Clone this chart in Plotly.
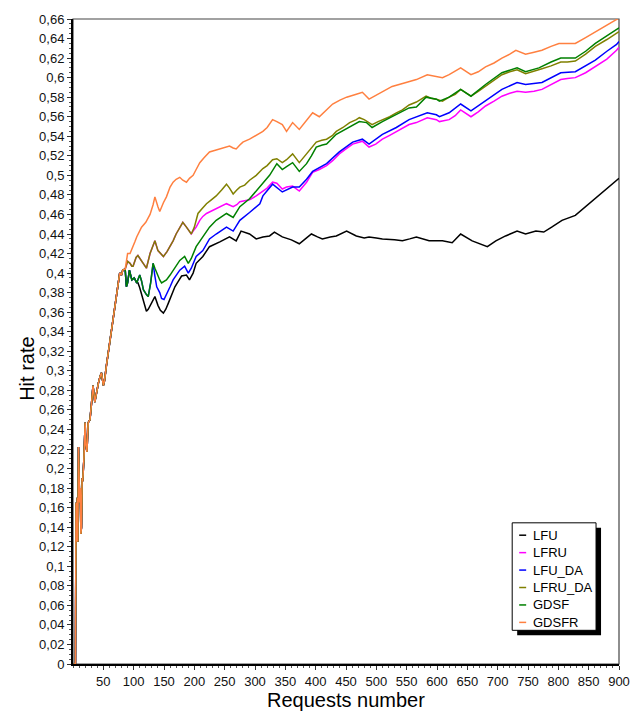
import plotly.graph_objects as go

# ---------------------------------------------------------------------------
# Hit rate vs. number of requests for six cache replacement policies.
# All policies behave identically while the cache is warming up; after that
# each curve branches off from the policy it tracked until then.
# ---------------------------------------------------------------------------

# Shared warm-up phase (also the beginning of GDSFR)
warmup_x = [1, 2, 3, 4, 5, 6, 7, 8, 9, 10, 11, 12, 13, 14, 15, 16, 18, 20, 21,
            23, 25, 28, 31, 33, 36, 39, 42, 45, 47, 50, 52, 55, 58, 61, 64, 66,
            69, 72, 75, 77, 80, 82, 86]
warmup_y = [0.0, 0.0, 0.0, 0.0, 0.165, 0.125, 0.17, 0.125, 0.222, 0.20, 0.165,
            0.18, 0.133, 0.14, 0.19, 0.187, 0.21, 0.247, 0.225, 0.217, 0.247,
            0.25, 0.27, 0.285, 0.268, 0.28, 0.288, 0.295, 0.298, 0.285, 0.29,
            0.305, 0.318, 0.33, 0.345, 0.356, 0.37, 0.38, 0.395, 0.40, 0.398,
            0.403, 0.404]

# GDSFR after warm-up
gdsfr_x = [90, 94, 98, 102, 105, 109, 113, 120, 127, 132, 135, 140, 143, 149,
           154, 160, 165, 170, 176, 181, 187, 192, 198, 203, 209, 216, 225, 236,
           242, 253, 258, 264, 269, 275, 280, 291, 302, 313, 320, 329, 336, 345,
           352, 362, 373, 385, 395, 406, 418, 428, 440, 451, 467, 477, 488, 499,
           510, 526, 549, 566, 584, 599, 609, 620, 639, 656, 668, 680, 694, 707,
           720, 730, 746, 760, 773, 788, 801, 815, 828, 845, 861, 880, 896, 900]
gdsfr_y = [0.42, 0.42, 0.427, 0.432, 0.437, 0.443, 0.447, 0.452, 0.46, 0.47,
           0.478, 0.468, 0.463, 0.472, 0.478, 0.488, 0.493, 0.496, 0.498, 0.495,
           0.493, 0.497, 0.50, 0.506, 0.513, 0.518, 0.524, 0.526, 0.527, 0.529,
           0.53, 0.528, 0.527, 0.531, 0.534, 0.537, 0.541, 0.545, 0.549, 0.557,
           0.555, 0.552, 0.545, 0.554, 0.547, 0.556, 0.564, 0.56, 0.567, 0.573,
           0.577, 0.58, 0.583, 0.585, 0.578, 0.582, 0.586, 0.591, 0.595, 0.598,
           0.603, 0.601, 0.60, 0.603, 0.61, 0.603, 0.606, 0.611, 0.615, 0.62,
           0.624, 0.628, 0.624, 0.626, 0.628, 0.632, 0.635, 0.635, 0.635,
           0.641, 0.647, 0.654, 0.66, 0.661]

# LFRU_DA after warm-up
lfru_da_x = [90, 94, 97, 99, 104, 107, 110, 113, 118, 121, 127, 135, 140, 145,
             149, 155, 160, 165, 170, 176, 181, 187, 192, 195, 200, 206, 213,
             220, 228, 236, 245, 253, 258, 264, 270, 275, 283, 291, 302, 308,
             313, 320, 329, 336, 345, 352, 362, 373, 385, 395, 401, 410, 418,
             428, 434, 445, 456, 467, 472, 480, 493, 503, 510, 522, 533, 543,
             554, 566, 582, 590, 599, 609, 620, 630, 639, 648, 656, 668, 680,
             694, 707, 720, 732, 746, 760, 773, 788, 804, 815, 828, 845, 861,
             880, 896, 900]
lfru_da_y = [0.412, 0.41, 0.407, 0.407, 0.416, 0.418, 0.415, 0.413, 0.408,
             0.405, 0.42, 0.433, 0.423, 0.42, 0.417, 0.422, 0.427, 0.433, 0.44,
             0.447, 0.452, 0.447, 0.443, 0.44, 0.447, 0.461, 0.466, 0.471,
             0.475, 0.479, 0.485, 0.491, 0.487, 0.481, 0.485, 0.488, 0.49,
             0.495, 0.50, 0.504, 0.507, 0.51, 0.516, 0.517, 0.513, 0.516, 0.522,
             0.513, 0.522, 0.53, 0.534, 0.536, 0.537, 0.541, 0.545, 0.549,
             0.554, 0.557, 0.559, 0.557, 0.552, 0.555, 0.557, 0.56, 0.564,
             0.567, 0.572, 0.575, 0.581, 0.579, 0.578, 0.576, 0.58, 0.583,
             0.588, 0.584, 0.581, 0.586, 0.591, 0.597, 0.603, 0.606, 0.608,
             0.604, 0.607, 0.609, 0.612, 0.616, 0.616, 0.617, 0.624, 0.632,
             0.639, 0.645, 0.647]

# LFRU follows LFRU_DA up to request 195, then
lfru_split = 195
lfru_x = [198, 203, 209, 214, 220, 230, 236, 245, 253, 264, 270, 275, 283, 291,
          302, 313, 320, 329, 336, 345, 352, 362, 373, 385, 395, 406, 418, 428,
          439, 450, 461, 477, 488, 499, 510, 522, 533, 545, 554, 566, 584, 599,
          604, 620, 630, 639, 648, 656, 668, 680, 694, 707, 720, 732, 746, 760,
          773, 788, 804, 815, 828, 845, 861, 880, 896, 900]
lfru_y = [0.443, 0.447, 0.454, 0.458, 0.461, 0.464, 0.466, 0.468, 0.471, 0.468,
          0.47, 0.473, 0.474, 0.475, 0.479, 0.484, 0.487, 0.493, 0.492, 0.486,
          0.488, 0.489, 0.484, 0.493, 0.503, 0.506, 0.51, 0.515, 0.522, 0.527,
          0.532, 0.535, 0.529, 0.532, 0.537, 0.541, 0.545, 0.549, 0.552, 0.554,
          0.559, 0.557, 0.555, 0.557, 0.561, 0.567, 0.563, 0.56, 0.565, 0.571,
          0.576, 0.581, 0.584, 0.586, 0.585, 0.586, 0.588, 0.593, 0.598, 0.599,
          0.60, 0.605, 0.611, 0.619, 0.628, 0.631]

# GDSF after warm-up
gdsf_x = [88, 90, 93, 97, 101, 105, 110, 113, 116, 121, 124, 128, 132, 135, 138,
          143, 146, 154, 160, 165, 170, 176, 184, 190, 195, 203, 214, 225, 236,
          253, 264, 275, 291, 308, 324, 336, 345, 352, 362, 373, 385, 393, 401,
          411, 418, 434, 445, 456, 472, 484, 493, 510, 533, 554, 566, 582, 599,
          604, 620, 639, 656, 680, 707, 732, 746, 768, 788, 804, 828, 845, 861,
          880, 896, 900]
gdsf_y = [0.386, 0.39, 0.403, 0.393, 0.395, 0.39, 0.398, 0.392, 0.383, 0.378,
          0.376, 0.39, 0.41, 0.405, 0.40, 0.393, 0.39, 0.393, 0.398, 0.403,
          0.408, 0.413, 0.417, 0.41, 0.415, 0.427, 0.437, 0.447, 0.454, 0.461,
          0.457, 0.468, 0.476, 0.488, 0.50, 0.512, 0.506, 0.509, 0.513, 0.504,
          0.512, 0.52, 0.529, 0.531, 0.532, 0.542, 0.546, 0.55, 0.555, 0.554,
          0.549, 0.555, 0.562, 0.569, 0.57, 0.58, 0.578, 0.576, 0.58, 0.588,
          0.581, 0.593, 0.605, 0.61, 0.606, 0.61, 0.616, 0.62, 0.62, 0.627,
          0.635, 0.643, 0.649, 0.651]

# LFU_DA follows GDSF up to request 132, then
lfu_da_split = 132
lfu_da_x = [135, 138, 143, 146, 150, 154, 160, 165, 170, 176, 184, 190, 195,
            203, 214, 225, 236, 253, 264, 275, 291, 308, 313, 329, 345, 362,
            373, 385, 395, 418, 439, 461, 477, 488, 510, 533, 554, 584, 599, 604,
            620, 639, 656, 680, 707, 732, 746, 773, 804, 828, 861, 880, 896, 900]
lfu_da_y = [0.397, 0.386, 0.38, 0.374, 0.373, 0.379, 0.386, 0.393, 0.398,
            0.403, 0.407, 0.40, 0.405, 0.417, 0.423, 0.435, 0.44, 0.447, 0.443,
            0.454, 0.462, 0.471, 0.479, 0.491, 0.483, 0.488, 0.488, 0.496,
            0.504, 0.512, 0.524, 0.534, 0.537, 0.532, 0.542, 0.549, 0.557,
            0.564, 0.562, 0.56, 0.564, 0.573, 0.566, 0.576, 0.588, 0.595, 0.593,
            0.595, 0.605, 0.606, 0.618, 0.627, 0.634, 0.637]

# LFU follows GDSF up to request 105, then
lfu_split = 105
lfu_x = [107, 110, 113, 117, 121, 124, 127, 132, 135, 140, 144, 149, 153, 157,
         163, 168, 174, 179, 187, 192, 198, 203, 214, 225, 242, 258, 269, 277,
         291, 302, 313, 324, 332, 345, 360, 373, 385, 393, 403, 411, 424, 434,
         451, 467, 480, 488, 500, 510, 530, 543, 555, 566, 587, 609, 625, 639,
         658, 672, 683, 697, 713, 732, 746, 763, 776, 789, 806, 828, 845, 867,
         896, 900]
lfu_y = [0.39, 0.385, 0.379, 0.37, 0.361, 0.363, 0.367, 0.372, 0.376, 0.367,
         0.362, 0.359, 0.363, 0.369, 0.378, 0.386, 0.392, 0.397, 0.398, 0.393,
         0.40, 0.41, 0.417, 0.427, 0.432, 0.437, 0.433, 0.443, 0.44, 0.435,
         0.437, 0.438, 0.442, 0.437, 0.434, 0.43, 0.436, 0.44, 0.437, 0.435,
         0.437, 0.438, 0.443, 0.438, 0.436, 0.437, 0.436, 0.435, 0.434, 0.433,
         0.435, 0.437, 0.433, 0.433, 0.431, 0.44, 0.433, 0.43, 0.427, 0.433,
         0.438, 0.443, 0.44, 0.443, 0.442, 0.447, 0.454, 0.459, 0.468, 0.479,
         0.494, 0.497]

x_ticks = list(range(50, 901, 50))
y_ticks = [round(i * 0.02, 2) for i in range(34)]


def fmt_comma(v):
    s = f"{v:.2f}".rstrip("0").rstrip(".")
    return s.replace(".", ",")


def branch(px, py, split, tx, ty):
    """Take the parent curve up to `split`, then continue with the tail."""
    head = [(a, b) for a, b in zip(px, py) if a <= split]
    return [a for a, _ in head] + list(tx), [b for _, b in head] + list(ty)


gdsfr = (warmup_x + gdsfr_x, warmup_y + gdsfr_y)
lfru_da = (warmup_x + lfru_da_x, warmup_y + lfru_da_y)
gdsf = (warmup_x + gdsf_x, warmup_y + gdsf_y)
lfru = branch(*lfru_da, lfru_split, lfru_x, lfru_y)
lfu_da = branch(*gdsf, lfu_da_split, lfu_da_x, lfu_da_y)
lfu = branch(*gdsf, lfu_split, lfu_x, lfu_y)

series = [
    ("LFU", lfu, "#000000"),
    ("LFRU", lfru, "#ff00ff"),
    ("LFU_DA", lfu_da, "#0000ff"),
    ("LFRU_DA", lfru_da, "#808000"),
    ("GDSF", gdsf, "#008000"),
    ("GDSFR", gdsfr, "#ff8040"),
]

FONT = "Liberation Sans, Arial, sans-serif"
W, H = 642, 712
ML, MR, MT, MB = 73, 22, 13, 48
PW, PH = W - ML - MR, H - MT - MB


def paper_x(px):
    return (px - ML) / PW


def paper_y(py):
    return (H - MB - py) / PH


fig = go.Figure()
for name, (xs, ys), color in series:
    fig.add_trace(go.Scatter(x=xs, y=ys, mode="lines", name=name,
                             line=dict(color=color, width=1.5),
                             showlegend=False))

shapes = [
    # thin frame around the plotting area
    dict(type="rect", xref="paper", yref="paper", x0=0, y0=0, x1=1, y1=1,
         line=dict(color="#444444", width=1.2), layer="below"),
]

# Legend box with drop shadow
lg_l, lg_t, lg_r, lg_b = 513, 521.5, 597, 630
shadow = 5
shapes.append(dict(type="rect", xref="paper", yref="paper",
                   x0=paper_x(lg_l + shadow), x1=paper_x(lg_r + shadow),
                   y0=paper_y(lg_b + shadow), y1=paper_y(lg_t + shadow),
                   fillcolor="#000000", line=dict(width=0), layer="above"))
shapes.append(dict(type="rect", xref="paper", yref="paper",
                   x0=paper_x(lg_l), x1=paper_x(lg_r),
                   y0=paper_y(lg_b), y1=paper_y(lg_t),
                   fillcolor="#ffffff", line=dict(color="#000000", width=1),
                   layer="above"))

annotations = []
row0, row_gap = 534, 17.6
for i, (name, _, color) in enumerate(series):
    cy = row0 + i * row_gap
    shapes.append(dict(type="line", xref="paper", yref="paper",
                       x0=paper_x(520), x1=paper_x(527),
                       y0=paper_y(cy), y1=paper_y(cy),
                       line=dict(color=color, width=1.5), layer="above"))
    annotations.append(dict(text=name, xref="paper", yref="paper",
                            x=paper_x(532), y=paper_y(cy), xanchor="left",
                            yanchor="middle", showarrow=False,
                            font=dict(family=FONT, size=13, color="#000000")))

# Axis titles
annotations.append(dict(text="Requests number", xref="paper", yref="paper",
                        x=0.5, y=paper_y(700), xanchor="center",
                        yanchor="middle", showarrow=False,
                        font=dict(family=FONT, size=20, color="#000000")))
annotations.append(dict(text="Hit rate", xref="paper", yref="paper",
                        x=paper_x(27), y=paper_y(366), xanchor="center",
                        yanchor="middle", textangle=-90, showarrow=False,
                        font=dict(family=FONT, size=20, color="#000000")))

fig.update_layout(
    width=W, height=H,
    margin=dict(l=ML, r=MR, t=MT, b=MB, pad=0),
    paper_bgcolor="#ffffff", plot_bgcolor="#ffffff",
    font=dict(family=FONT, size=13, color="#111111"),
    shapes=shapes, annotations=annotations,
    xaxis=dict(range=[0, 900], tickvals=x_ticks,
               ticktext=[str(v) for v in x_ticks],
               showgrid=False, zeroline=False, showline=True,
               linecolor="#000000", linewidth=2,
               ticks="outside", ticklen=4, tickwidth=1, tickcolor="#333333",
               minor=dict(dtick=10, ticks="outside", ticklen=2,
                          tickcolor="#555555", showgrid=False),
               tickfont=dict(family=FONT, size=13, color="#111111")),
    yaxis=dict(range=[0, 0.66], tickvals=y_ticks,
               ticktext=[fmt_comma(v) for v in y_ticks],
               showgrid=False, zeroline=False, showline=True,
               linecolor="#000000", linewidth=2,
               ticks="outside", ticklen=4, tickwidth=1, tickcolor="#333333",
               minor=dict(dtick=0.005, ticks="outside", ticklen=2,
                          tickcolor="#555555", showgrid=False),
               tickfont=dict(family=FONT, size=13, color="#111111")),
)

fig.write_html("out.html")
